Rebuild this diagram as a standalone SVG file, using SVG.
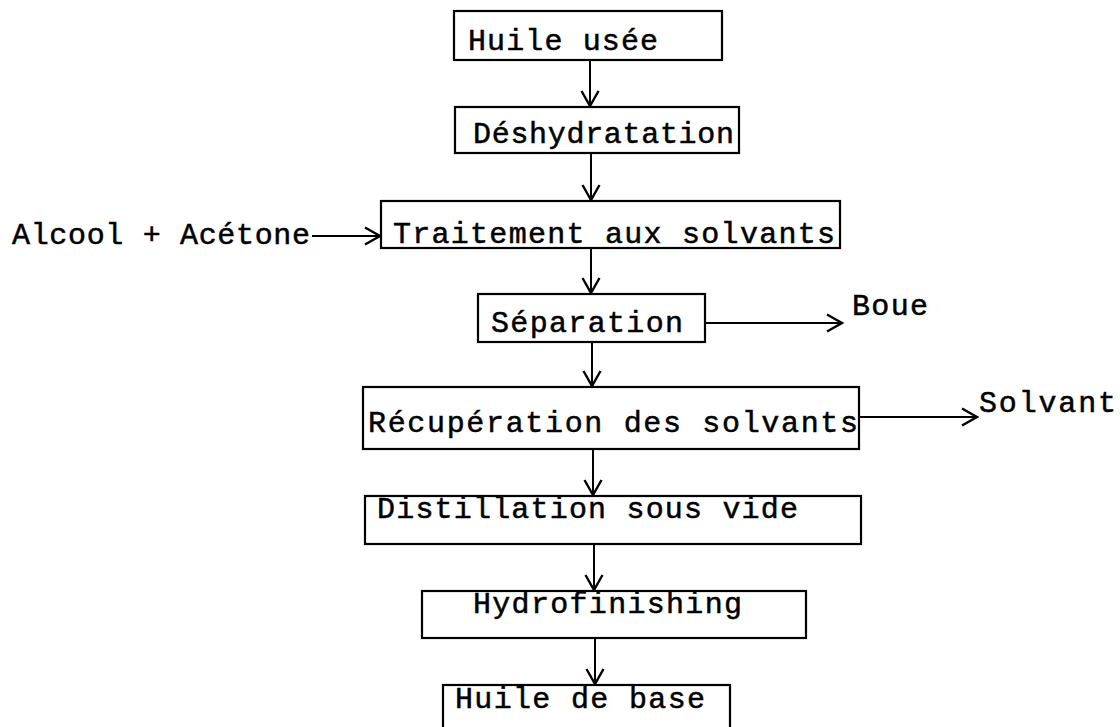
<svg xmlns="http://www.w3.org/2000/svg" width="1120" height="727" viewBox="0 0 1120 727">
<style>
.box{fill:none;stroke:#000;stroke-width:2.2}
.lbl{font-family:"Liberation Mono","Courier New",monospace;font-size:30px;fill:#000;stroke:#000;stroke-width:0.5}
.con{stroke:#000;stroke-width:2;fill:none;marker-end:url(#arr)}
</style>
<defs>
<marker id="arr" viewBox="-18 -11 20 22" refX="0" refY="0" markerWidth="20" markerHeight="22" markerUnits="userSpaceOnUse" orient="auto">
<path d="M-15,-8.5 L0,0 L-15,8.5" fill="none" stroke="#000" stroke-width="2.4"/>
</marker>
</defs>
<rect width="1120" height="727" fill="#fff"/>
<g id="connectors">
<line class="con" x1="590" y1="60" x2="590" y2="106"/>
<line class="con" x1="591" y1="153" x2="591" y2="200"/>
<line class="con" x1="591" y1="248" x2="591" y2="293"/>
<line class="con" x1="592" y1="342" x2="592" y2="386"/>
<line class="con" x1="593" y1="449" x2="593" y2="495"/>
<line class="con" x1="594" y1="544" x2="594" y2="590"/>
<line class="con" x1="595" y1="638" x2="595" y2="684"/>
<line class="con" x1="312" y1="236" x2="380" y2="236"/>
<line class="con" x1="705" y1="323" x2="842" y2="323"/>
<line class="con" x1="859" y1="417" x2="977" y2="417"/>
</g>
<g id="n1"><rect class="box" x="454" y="11" width="268" height="49"/><text class="lbl" x="468" y="50" textLength="190" lengthAdjust="spacing">Huile usée</text></g>
<g id="n2"><rect class="box" x="455" y="107" width="284" height="46"/><text class="lbl" x="473" y="143" textLength="261" lengthAdjust="spacing">Déshydratation</text></g>
<g id="n3"><rect class="box" x="381" y="201" width="459" height="47"/><text class="lbl" x="393" y="243" textLength="442" lengthAdjust="spacing">Traitement aux solvants</text></g>
<g id="n4"><rect class="box" x="478" y="294" width="227" height="48"/><text class="lbl" x="491" y="332" textLength="192" lengthAdjust="spacing">Séparation</text></g>
<g id="n5"><rect class="box" x="363" y="387" width="496" height="62"/><text class="lbl" x="368" y="432" textLength="490" lengthAdjust="spacing">Récupération des solvants</text></g>
<g id="n6"><rect class="box" x="365" y="496" width="496" height="48"/><text class="lbl" x="377" y="518" textLength="421" lengthAdjust="spacing">Distillation sous vide</text></g>
<g id="n7"><rect class="box" x="422" y="591" width="384" height="47"/><text class="lbl" x="473" y="613" textLength="269" lengthAdjust="spacing">Hydrofinishing</text></g>
<g id="n8"><rect class="box" x="443" y="685" width="287" height="55"/><text class="lbl" x="455" y="708" textLength="250" lengthAdjust="spacing">Huile de base</text></g>
<g id="in1"><text class="lbl" x="12" y="244" textLength="298" lengthAdjust="spacing">Alcool + Acétone</text></g>
<g id="out1"><text class="lbl" x="852" y="315" textLength="76" lengthAdjust="spacing">Boue</text></g>
<g id="out2"><text class="lbl" x="979" y="412" textLength="137" lengthAdjust="spacing">Solvant</text></g>
</svg>
